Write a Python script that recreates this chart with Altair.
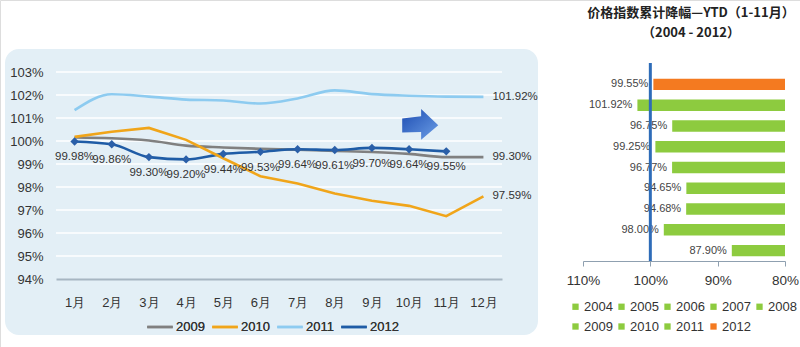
import altair as alt
import pandas as pd

# ---- data ----
months = list(range(1, 13))
s2009 = [100.15, 100.12, 100.02, 99.80, 99.72, 99.66, 99.62, 99.57, 99.52, 99.44, 99.30, 99.30]
s2010 = [100.18, 100.40, 100.57, 100.05, 99.25, 98.47, 98.15, 97.72, 97.40, 97.18, 96.73, 97.59]
s2011 = [101.34, 102.03, 101.93, 101.80, 101.76, 101.63, 101.85, 102.20, 102.04, 101.97, 101.93, 101.92]
s2012 = [99.98, 99.86, 99.30, 99.20, 99.44, 99.53, 99.64, 99.61, 99.70, 99.64, 99.55]
line_years = ["2009", "2010", "2011", "2012"]
line_colors = ["#808080", "#F0A51A", "#8DCBF0", "#1F5CA6"]
end_labels = ["99.30%", "97.59%", "101.92%"]
y_ticks = list(range(94, 104))

bar_years = ["2004", "2005", "2006", "2007", "2008", "2009", "2010", "2011", "2012"]
bar_values = [87.90, 98.00, 94.68, 94.65, 96.77, 99.25, 96.75, 101.92, 99.55]
bar_colors = ["#8DCB3F"] * 8 + ["#F47A20"]
x_ticks = [110, 100, 90, 80]

arrow_x = [10.3]
arrow_y = [100.72]

title_lines = ["价格指数累计降幅—YTD（1-11月）", "（2004 - 2012）"]

FONT = "Liberation Sans"
TXT = "#333333"
CW, CH = 800, 347

# ---- tables ----
rows = []
for yr, ser in zip(line_years, [s2009, s2010, s2011, s2012]):
    for m, v in zip(months, ser):
        rows.append({"month": m, "value": v, "year": yr})
lines_df = pd.DataFrame(rows)
smooth_df = lines_df[lines_df.year != "2010"]
sharp_df = lines_df[lines_df.year == "2010"]
pts_df = lines_df[lines_df.year == "2012"].copy()
pts_df["label"] = [f"{v:.2f}%" for v in pts_df.value]
end_df = pd.DataFrame({
    "month": [12, 12, 12],
    "value": [s2009[-1], s2010[-1], s2011[-1]],
    "label": end_labels,
})
arrow_df = pd.DataFrame({"month": arrow_x, "value": arrow_y})
grid_df = pd.DataFrame({"value": y_ticks[1:]})

# ---- left panel (line chart) ----
L_X0, L_X1, L_Y0, L_Y1 = 56, 502, 279, 72
xscale = alt.Scale(domain=[0.5, 12.5], range=[L_X0, L_X1], nice=False, zero=False)
yscale = alt.Scale(domain=[94, 103], range=[L_Y0, L_Y1], nice=False, zero=False)


def lx(axis=False):
    if axis:
        return alt.X("month:Q", scale=xscale,
                     axis=alt.Axis(orient="bottom", offset=L_Y0 - CH, values=months,
                                   labelExpr="datum.value + '月'", title=None, grid=False,
                                   ticks=False, domainColor="#A7B6C2", domainWidth=2,
                                   labelPadding=17, labelFontSize=13, labelColor=TXT,
                                   labelFont=FONT, zindex=1))
    return alt.X("month:Q", scale=xscale, axis=None)


def ly(axis=False):
    if axis:
        return alt.Y("value:Q", scale=yscale,
                     axis=alt.Axis(orient="left", offset=-L_X0, values=y_ticks,
                                   labelExpr="datum.value + '%'", title=None, grid=False,
                                   ticks=False, domain=False, zindex=1, labelPadding=13,
                                   labelFontSize=13, labelColor=TXT, labelFont=FONT))
    return alt.Y("value:Q", scale=yscale, axis=None)


color = alt.Color("year:N", scale=alt.Scale(domain=line_years, range=line_colors),
                  legend=alt.Legend(orient="none", legendX=146, legendY=313, direction="horizontal",
                                    title=None, symbolType="stroke", symbolSize=650,
                                    symbolStrokeWidth=2.5, labelFontSize=13, labelColor=TXT,
                                    labelFontWeight="normal",
                                    labelFont=FONT, columnPadding=2, labelOffset=2))

one = pd.DataFrame({"a": [0]})
bg = alt.Chart(one).mark_rect(fill="#E3EFF6", cornerRadius=14).encode(
    x=alt.value(5), x2=alt.value(538), y=alt.value(49), y2=alt.value(335))
grid = alt.Chart(grid_df).mark_rule(color="#FFFFFF", strokeWidth=1.5).encode(
    y=ly(), x=alt.value(L_X0), x2=alt.value(L_X1))
l_smooth = alt.Chart(smooth_df).mark_line(interpolate="monotone", strokeWidth=2.6).encode(
    x=lx(True), y=ly(True), color=color, order="month:Q")
l_sharp = alt.Chart(sharp_df).mark_line(strokeWidth=2.6).encode(
    x=lx(), y=ly(), color=color, order="month:Q")
pts = alt.Chart(pts_df).mark_point(shape="diamond", filled=True, size=70, opacity=1,
                                   color="#2A5FA8").encode(x=lx(), y=ly())
pt_lbl = alt.Chart(pts_df).mark_text(dy=16, fontSize=11.5, color=TXT, font=FONT).encode(
    x=lx(), y=ly(), text="label:N")
end_lbl = alt.Chart(end_df).mark_text(align="left", dx=9, fontSize=11.5, color=TXT, font=FONT).encode(
    x=lx(), y=ly(), text="label:N")
arrow = alt.Chart(arrow_df).mark_point(
    shape="M -1 -0.33 L 0.05 -0.45 L 0.05 -0.85 L 1 0.05 L 0.05 0.85 L 0.05 0.42 L -1 0.45 Z",
    filled=True, size=1300, opacity=1, strokeWidth=0,
    fill=alt.Gradient(gradient="linear", x1=0, x2=1, y1=0, y2=1,
                      stops=[alt.GradientStop(color="#1C4CB2", offset=0),
                             alt.GradientStop(color="#6D9FE6", offset=1)])
).encode(x=lx(), y=ly())

# ---- right panel (bar chart) ----
R_X0, R_X1, R_Y0, R_Y1 = 583, 785, 74, 261
bar_df = pd.DataFrame({"year": bar_years, "value": bar_values, "base": [80] * 9})
bar_df["label"] = [f"{v:.2f}%" for v in bar_values]
rxscale = alt.Scale(domain=[80, 110], range=[R_X1, R_X0], nice=False, zero=False)
ryscale = alt.Scale(domain=list(reversed(bar_years)), range=[R_Y0, R_Y1],
                    paddingInner=0.45, paddingOuter=0.225)
bx_axis = alt.X("value:Q", scale=rxscale,
                axis=alt.Axis(orient="bottom", offset=R_Y1 - CH, values=x_ticks,
                              labelExpr="datum.value + '%'", title=None, grid=False, ticks=True,
                              tickSize=5, tickColor="#8FA0B0", domainColor="#8FA0B0",
                              labelPadding=7, labelFontSize=13.5, labelFlush=False,
                              labelColor=TXT, labelFont=FONT, zindex=1))
bx = alt.X("value:Q", scale=rxscale, axis=None)
by = alt.Y("year:N", scale=ryscale, sort=None, axis=None)
bcolor = alt.Color("year:N", scale=alt.Scale(domain=bar_years, range=bar_colors),
                   legend=alt.Legend(orient="none", legendX=569, legendY=300, direction="horizontal",
                                     columns=5, title=None, symbolType="square", symbolSize=40,
                                     labelFontSize=13, labelColor=TXT, labelFont=FONT,
                                     labelFontWeight="normal",
                                     columnPadding=2, rowPadding=6, labelOffset=2))
bars = alt.Chart(bar_df).mark_bar().encode(x=bx_axis, x2="base:Q", y=by, color=bcolor)
blbl = alt.Chart(bar_df).mark_text(align="right", dx=-5, fontSize=11, color="#444444",
                                   font=FONT).encode(x=bx, y=by, text="label:N")
vline = alt.Chart(pd.DataFrame({"v": [100]})).mark_rule(color="#2E6CB8", strokeWidth=3).encode(
    x=alt.X("v:Q", scale=rxscale, axis=None), y=alt.value(63), y2=alt.value(R_Y1))
title_df = pd.DataFrame({"t": title_lines, "yy": [13, 33]})
ttl = alt.Chart(title_df).mark_text(fontSize=13, fontWeight="bold", color="#222222",
                                    font="Noto Sans CJK SC").encode(
    x=alt.value(691), y=alt.Y("yy:Q", scale=None), text="t:N")

chart = alt.layer(
    bg, grid, l_smooth, l_sharp, pts, pt_lbl, end_lbl, arrow,
    bars, blbl, vline, ttl
).resolve_scale(x="independent", y="independent", color="independent").properties(
    width=CW, height=CH,
    autosize=alt.AutoSizeParams(type="none"),
    padding=0,
).configure_view(stroke=None).configure(background="#FFFFFF")

chart.save("out.html", embed_options={"renderer": "svg", "actions": False})
